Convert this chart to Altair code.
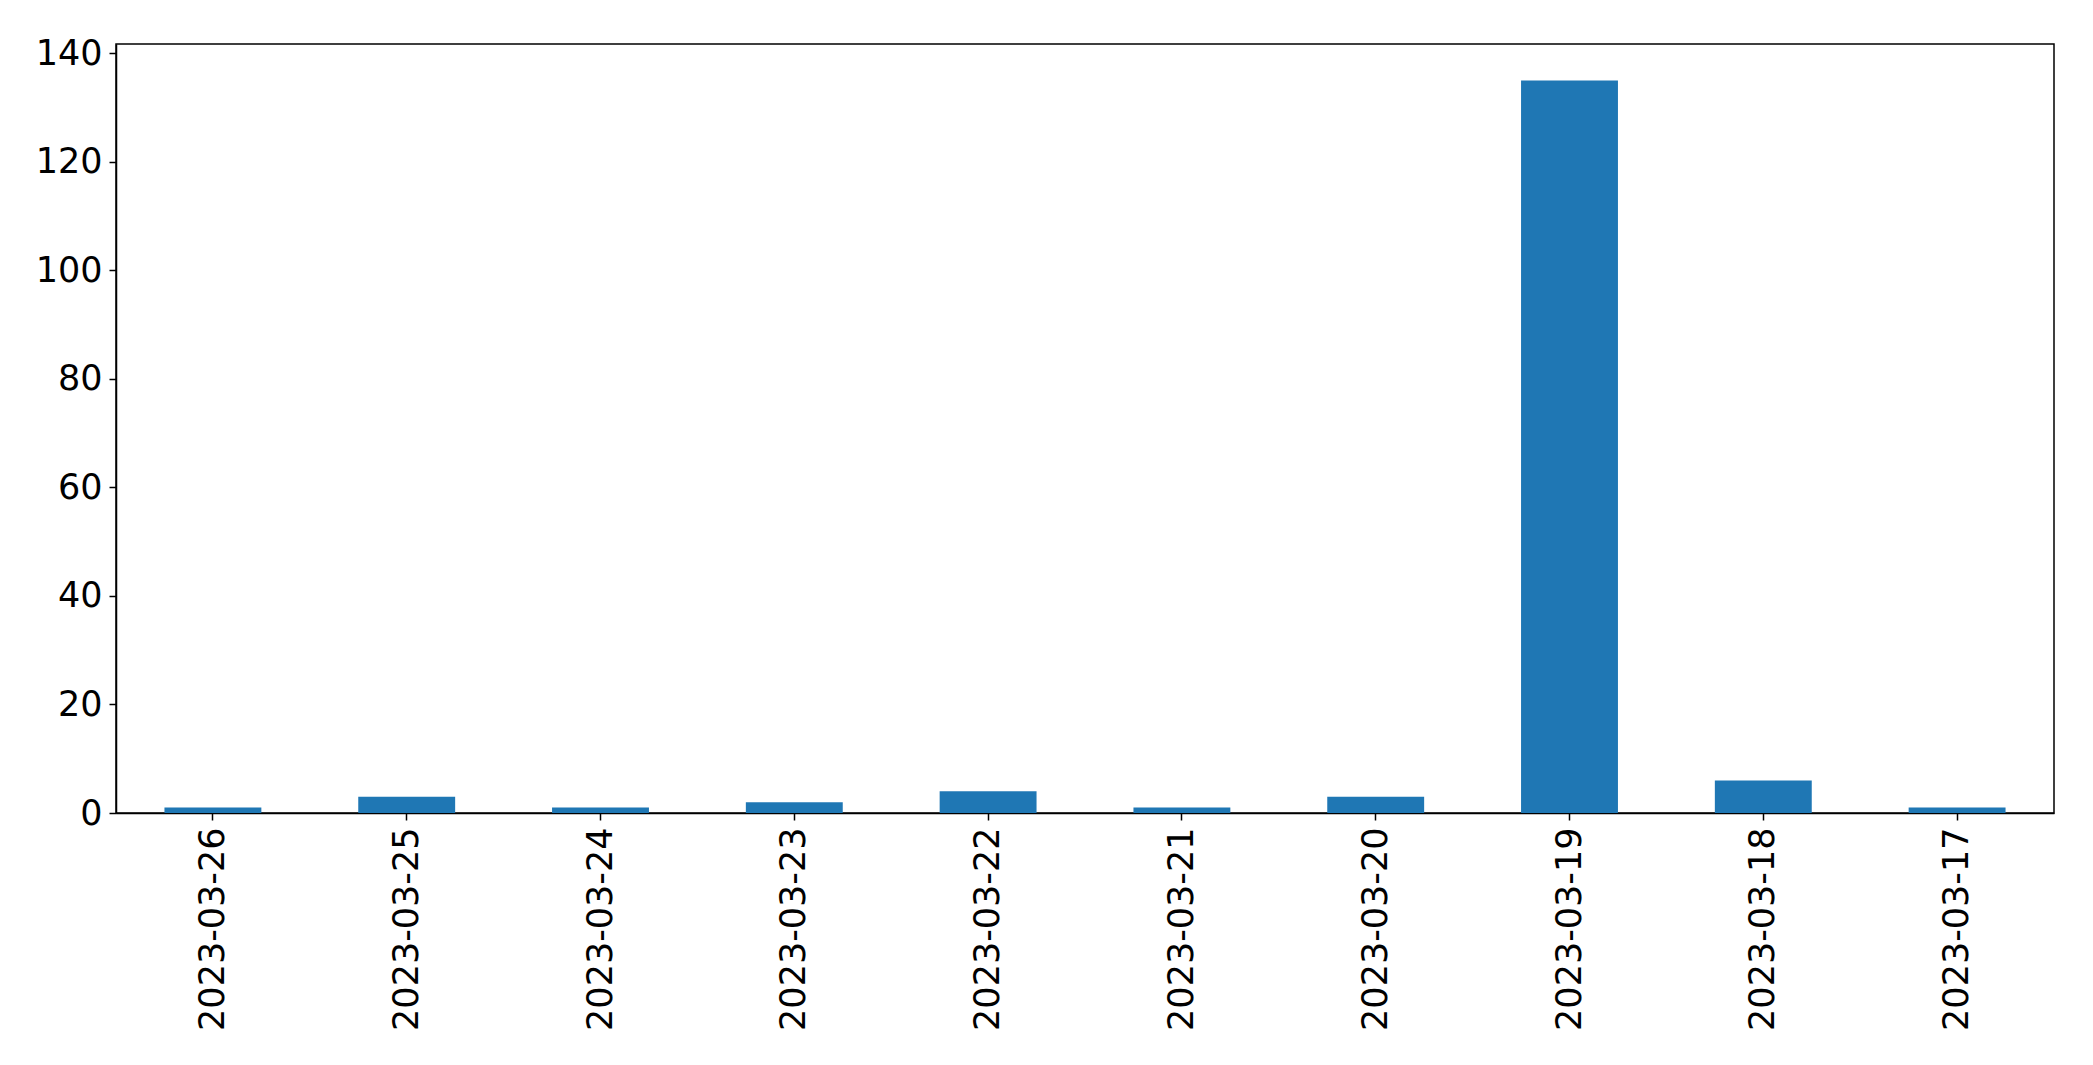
import altair as alt
import pandas as pd

dates = ["2023-03-26", "2023-03-25", "2023-03-24", "2023-03-23", "2023-03-22",
         "2023-03-21", "2023-03-20", "2023-03-19", "2023-03-18", "2023-03-17"]
counts = [1, 3, 1, 2, 4, 1, 3, 135, 6, 1]
y_ticks = [0, 20, 40, 60, 80, 100, 120, 140]

df = pd.DataFrame({"date": dates, "count": counts})

FONT = "DejaVu Sans"

chart = alt.Chart(df).mark_bar(color="#1f77b4").encode(
    x=alt.X("date:N", sort=dates, title=None,
            scale=alt.Scale(paddingInner=0.5, paddingOuter=0.25),
            axis=alt.Axis(labelAngle=270, labelFontSize=35, labelFont=FONT,
                          labelColor="black", tickColor="black", tickSize=7,
                          tickWidth=1.5, domainColor="black", domainWidth=1.5,
                          labelPadding=7, labelLimit=0, grid=False)),
    y=alt.Y("count:Q", title=None,
            scale=alt.Scale(domain=[0, 141.75], nice=False, zero=True),
            axis=alt.Axis(values=y_ticks, labelFontSize=35, labelFont=FONT,
                          labelColor="black", tickColor="black", tickSize=7,
                          tickWidth=1.5, domainColor="black", domainWidth=1.5,
                          labelPadding=7, grid=False)),
).properties(
    width=1938,
    height=769,
    background="white",
    autosize=alt.AutoSizeParams(type="none"),
    padding={"left": 108, "top": 36, "right": 30, "bottom": 230},
).configure_view(
    stroke="black", strokeWidth=1.5
)

chart.save("out.html", embed_options={"renderer": "svg", "actions": False})
